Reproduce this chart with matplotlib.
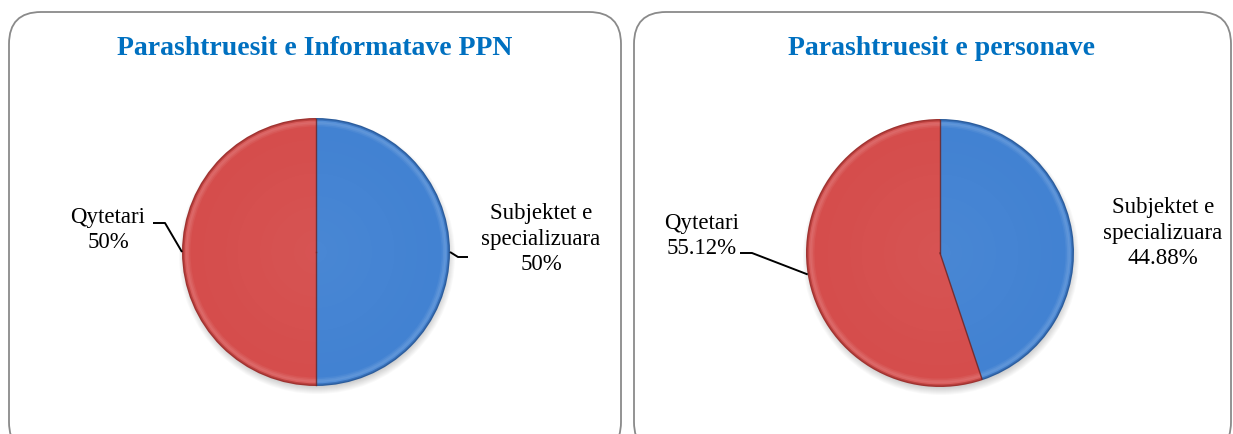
import numpy as np
import matplotlib
matplotlib.use("Agg")
import matplotlib.pyplot as plt
from matplotlib.patches import FancyBboxPatch, Circle
from matplotlib.colors import to_rgb

# data
titles = ["Parashtruesit e Informatave PPN", "Parashtruesit e personave"]
categories = ["Subjektet e\nspecializuara", "Qytetari"]
values_ppn = [50, 50]
values_pers = [44.88, 55.12]
pct_labels_ppn = ["50%", "50%"]
pct_labels_pers = ["44.88%", "55.12%"]

W, H = 1233, 434
fig = plt.figure(figsize=(W / 100, H / 100), dpi=100)
ax = fig.add_axes([0, 0, 1, 1])

serif = ["Liberation Serif", "DejaVu Serif"]
body = ["#4282d2", "#d54d4c"]
rim = ["#2b5c9c", "#9e3230"]


def mix(c1, c2, t):
    a, b = np.array(to_rgb(c1)), np.array(to_rgb(c2))
    return tuple(a + (b - a) * t)


def draw_panel(x0, x1, title, tx, values, pct, cx, cy, r, label_pos, leaders):
    # rounded frame
    frame = FancyBboxPatch((x0, -20), x1 - x0, H - 12 + 20,
                           boxstyle="round,pad=0,rounding_size=32",
                           fc="white", ec="#8a8a8a", lw=1.3, zorder=0)
    ax.add_patch(frame)
    ax.text(tx, H - 55, title, ha="center", va="baseline",
            fontsize=20, fontweight="bold", color="#0070c0", family=serif)

    # soft shadow
    for k in range(8):
        ax.add_patch(Circle((cx + 1, cy - 4), r + 4 - k, fc="#000000",
                            alpha=0.025, ec="none", zorder=1))

    # pie with a bevel: dark outer edge, light band just inside, then body
    bevel = [(0, lambda j: rim[j]),
             (1.3, lambda j: mix(rim[j], body[j], 0.55)),
             (2.6, lambda j: mix(body[j], "white", 0.10)),
             (4.0, lambda j: mix(body[j], "white", 0.16)),
             (5.5, lambda j: mix(body[j], "white", 0.11)),
             (7.0, lambda j: mix(body[j], "white", 0.05)),
             (8.5, lambda j: body[j])]
    for i, (dr, fn) in enumerate(bevel):
        ax.pie(values, radius=r - dr, center=(cx, cy),
               colors=[fn(j) for j in range(2)],
               startangle=90, counterclock=False,
               wedgeprops=dict(linewidth=0, zorder=2 + i * 0.01))
    for i, f in enumerate(np.linspace(0, 1, 12)):
        rr = (r - 10) * (1 - f)
        if rr <= 0:
            break
        cols = [mix(body[j], "white", 0.04 * f) for j in range(2)]
        ax.pie(values, radius=rr, center=(cx, cy), colors=cols,
               startangle=90, counterclock=False,
               wedgeprops=dict(linewidth=0, zorder=2.2 + i * 0.01))

    # slice boundaries
    total = sum(values)
    cum = 0.0
    for v in values:
        ang = np.deg2rad(90 - 360 * cum / total)
        cum += v
        ax.plot([cx, cx + (r - 1) * np.cos(ang)], [cy, cy + (r - 1) * np.sin(ang)],
                color="#6e2626", lw=1.0, zorder=3, alpha=0.85)

    # labels
    start = 0.0
    for j, v in enumerate(values):
        mid = start + v / 2
        start += v
        ang = np.deg2rad(90 - 360 * mid / total)
        px, py = cx + r * np.cos(ang), cy + r * np.sin(ang)
        lx, ly = label_pos[j]
        ax.text(lx, ly, categories[j] + "\n" + pct[j], ha="center",
                va="center", fontsize=16.5, family=serif, color="black",
                linespacing=1.27, zorder=5)
        if leaders[j] is not None:
            ex, ey, kx = leaders[j]
            ax.plot([px, kx, ex], [py, ey, ey], color="black", lw=1.4,
                    zorder=5, solid_capstyle="butt")


draw_panel(9, 621, titles[0], 315, values_ppn, pct_labels_ppn, 316, H - 252, 134,
           [(541, H - 239), (108, H - 230)],
           [(468, H - 257, 458), (153, H - 223, 165)])
draw_panel(634, 1231, titles[1], 941, values_pers, pct_labels_pers, 940, H - 253, 134,
           [(1163, H - 233), (702, H - 236)],
           [None, (740, H - 253, 752)])

ax.set_xlim(0, W)
ax.set_ylim(0, H)
ax.set_aspect("auto")
ax.axis("off")
fig.savefig("out.png", dpi=100, facecolor="white")
